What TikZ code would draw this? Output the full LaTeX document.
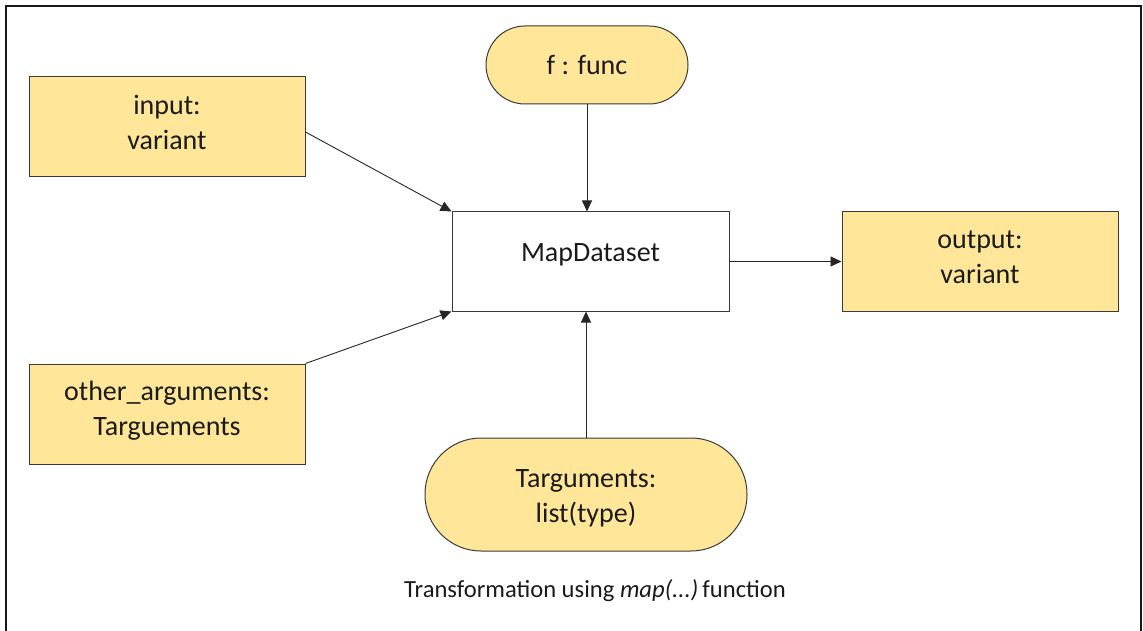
\documentclass[tikz,border=0pt]{standalone}
\usepackage{fontspec}
\setmainfont{Carlito}
\usetikzlibrary{arrows.meta}
\definecolor{boxfill}{HTML}{FFE699}
\definecolor{boxline}{HTML}{3A3A3A}
\definecolor{txt}{HTML}{1A1A1A}
\newcommand{\twolines}[2]{\begin{tabular}[b]{@{}c@{}}#1\\#2\end{tabular}}
\tikzset{
  base/.style={draw=boxline, line width=1pt, text=txt, align=center,
    font=\fontsize{28}{35}\selectfont, inner sep=0pt},
  ybox/.style={base, fill=boxfill, minimum width=276pt, minimum height=100pt},
  stadium/.style={base, fill=boxfill, rounded corners=#1},
  conn/.style={draw=black!85, line width=0.9pt, -{Triangle[length=11pt,width=10pt]}}
}
\begin{document}
\begin{tikzpicture}[x=1pt,y=-1pt]
\useasboundingbox (0,0) rectangle (1143,631);
\draw[line width=2.2pt, black!90] (6,640) -- (6,6) -- (1141,6) -- (1141,640);
\node[ybox, text height=45pt, text depth=0pt] (input) at (167,127) {\twolines{input:}{variant}};
\node[ybox, text height=43pt, text depth=0pt] (other) at (167,414) {\twolines{other\_arguments:}{Targuements}};
\node[stadium=39pt, minimum width=202pt, minimum height=78pt, text height=20pt, text depth=0pt] (func) at (587,65) {f : func};
\node[base, fill=white, minimum width=277pt, minimum height=99pt, text height=0pt, text depth=1pt] (map) at (590.5,261.5) {MapDataset};
\node[ybox, minimum height=99pt, text height=43pt, text depth=0pt] (output) at (980,261.5) {\twolines{output:}{variant}};
\node[stadium=56pt, minimum width=322pt, minimum height=113pt, text height=55pt, text depth=0pt] (targ) at (586,494.5) {\twolines{Targuments:}{list(type)}};
\node[text=txt, font=\fontsize{24.6}{28}\selectfont, inner sep=0pt, anchor=base] (caption) at (595,597) {Transformation using \textit{map(...)}\,function};
\draw[conn] ([yshift=-5pt]input.east) -- (map.north west);
\draw[conn] (other.north east) -- (map.south west);
\draw[conn] (func.south) -- (func.south |- map.north);
\draw[conn] (targ.north) -- (targ.north |- map.south);
\draw[conn] (map.east) -- (output.west);
\end{tikzpicture}
\end{document}
